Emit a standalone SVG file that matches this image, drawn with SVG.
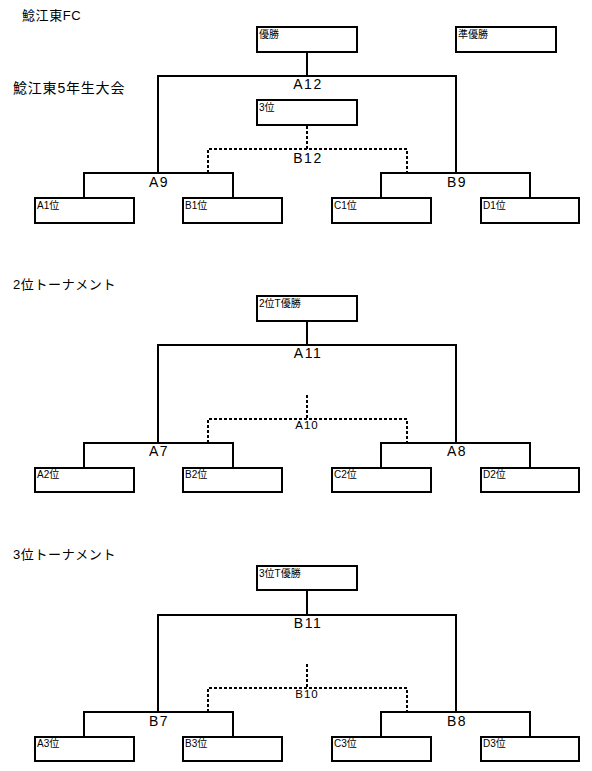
<svg xmlns="http://www.w3.org/2000/svg" width="592" height="771" viewBox="0 0 592 771">
<style>
text{font-family:"Liberation Sans","Noto Sans CJK JP",sans-serif;fill:#000}
.title{font-size:13px;letter-spacing:0.6px}
.box{fill:#fff;stroke:#000;stroke-width:2}
.bl{font-size:10px}
.ml{font-size:14px;letter-spacing:1.5px;text-anchor:middle}
.dl{font-size:11.5px;letter-spacing:1px;text-anchor:middle}
.ln{fill:none;stroke:#000;stroke-width:2}
.dash{fill:none;stroke:#000;stroke-width:2;stroke-dasharray:3 2}
</style>
<rect width="592" height="771" fill="#fff"/>
<text class="title" x="22" y="20">鯰江東FC</text>
<text class="title" x="13" y="93" style="font-size:14px;letter-spacing:0.8px">鯰江東5年生大会</text>
<text class="title" x="13" y="289">2位トーナメント</text>
<text class="title" x="13" y="559">3位トーナメント</text>

<g id="connectors">
<path class="ln" d="M307 52V76M158 173V76H456V173M84 198V173H233V198M381 198V173H530V198"/>
<path class="dash" d="M307 126V149M208 173V149H407V173"/>
<path class="ln" d="M307 321V345M158 443V345H456V443M84 468V443H233V468M381 468V443H530V468"/>
<path class="dash" d="M307 395V419M208 443V419H407V443"/>
<path class="ln" d="M307 590V615M158 712V615H456V712M84 737V712H233V737M381 737V712H530V737"/>
<path class="dash" d="M307 664V688M208 712V688H407V712"/>
</g>

<g id="winner"><rect class="box" x="257" y="27" width="100" height="25"/><text class="bl" x="259" y="38">優勝</text></g>
<g id="runnerup"><rect class="box" x="456" y="27" width="100" height="25"/><text class="bl" x="458" y="38">準優勝</text></g>
<g id="third"><rect class="box" x="257" y="100" width="100" height="25"/><text class="bl" x="259" y="111">3位</text></g>
<g id="A12"><text class="ml" x="308" y="89">A12</text></g>
<g id="B12"><text class="ml" x="308" y="163">B12</text></g>
<g id="A9"><text class="ml" x="159" y="187">A9</text></g>
<g id="B9"><text class="ml" x="457" y="187">B9</text></g>
<g id="A1"><rect class="box" x="35" y="198" width="99" height="25"/><text class="bl" x="37" y="209">A1位</text></g>
<g id="B1"><rect class="box" x="183" y="198" width="99" height="25"/><text class="bl" x="185" y="209">B1位</text></g>
<g id="C1"><rect class="box" x="332" y="198" width="99" height="25"/><text class="bl" x="334" y="209">C1位</text></g>
<g id="D1"><rect class="box" x="481" y="198" width="98" height="25"/><text class="bl" x="483" y="209">D1位</text></g>

<g id="T2winner"><rect class="box" x="257" y="296" width="100" height="25"/><text class="bl" x="259" y="307">2位T優勝</text></g>
<g id="A11"><text class="ml" x="308" y="358">A11</text></g>
<g id="A10"><text class="dl" x="307" y="429">A10</text></g>
<g id="A7"><text class="ml" x="159" y="456">A7</text></g>
<g id="A8"><text class="ml" x="457" y="456">A8</text></g>
<g id="A2"><rect class="box" x="35" y="468" width="99" height="24"/><text class="bl" x="37" y="478">A2位</text></g>
<g id="B2"><rect class="box" x="183" y="468" width="99" height="24"/><text class="bl" x="185" y="478">B2位</text></g>
<g id="C2"><rect class="box" x="332" y="468" width="99" height="24"/><text class="bl" x="334" y="478">C2位</text></g>
<g id="D2"><rect class="box" x="481" y="468" width="98" height="24"/><text class="bl" x="483" y="478">D2位</text></g>

<g id="T3winner"><rect class="box" x="257" y="566" width="100" height="24"/><text class="bl" x="259" y="577">3位T優勝</text></g>
<g id="B11"><text class="ml" x="308" y="628">B11</text></g>
<g id="B10"><text class="dl" x="307" y="698">B10</text></g>
<g id="B7"><text class="ml" x="159" y="726">B7</text></g>
<g id="B8"><text class="ml" x="457" y="726">B8</text></g>
<g id="A3"><rect class="box" x="35" y="737" width="99" height="24"/><text class="bl" x="37" y="747">A3位</text></g>
<g id="B3"><rect class="box" x="183" y="737" width="99" height="24"/><text class="bl" x="185" y="747">B3位</text></g>
<g id="C3"><rect class="box" x="332" y="737" width="99" height="24"/><text class="bl" x="334" y="747">C3位</text></g>
<g id="D3"><rect class="box" x="481" y="737" width="98" height="24"/><text class="bl" x="483" y="747">D3位</text></g>
</svg>
